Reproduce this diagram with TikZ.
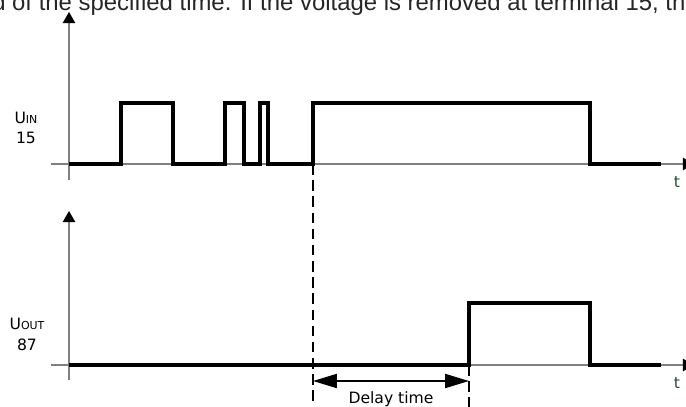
\documentclass[tikz,border=0pt]{standalone}
\usepackage{fontspec}
\setmainfont{DejaVu Sans}
\newfontfamily\arialfont{Liberation Sans}
\usetikzlibrary{arrows.meta}
\definecolor{axisgray}{RGB}{128,128,128}
\definecolor{tgreen}{RGB}{30,78,48}
\begin{document}
\begin{tikzpicture}[x=0.025cm, y=-0.025cm,
    axis/.style={draw=axisgray, line width=0.75pt},
    tip/.style={-{Triangle[length=8pt, width=9pt, color=black]}},
    sig/.style={draw, line width=2.4pt, miter limit=4},
    guide/.style={draw, line width=1.2pt, dash pattern=on 7.5pt off 4pt},
    lbl/.style={font=\fontsize{11.1}{13}\selectfont, inner sep=0pt},
    tlbl/.style={lbl, text=tgreen}
]
\useasboundingbox (0,0) rectangle (686,407);

% cropped line above
\node[anchor=base west, inner sep=0pt, text=black!85, font=\arialfont\fontsize{17}{20}\selectfont] (head) at (-8,11) {d of the specified time. If the voltage is removed at terminal 15, the};

% axes
\coordinate (o1) at (69,164);
\coordinate (o2) at (69,365);
\draw[axis, tip] (51,164) -- (694,164);
\draw[axis, tip] (51,365) -- (694,365);
\draw[axis, tip] (69,180) -- (69,12);
\draw[axis, tip] (69,380) -- (69,211);

% labels
\node[lbl] (uin) at (26,118) {U{\fontsize{7.8}{8}\selectfont IN}};
\node[lbl] (n15) at (26,138) {15};
\node[lbl] (uout) at (27,324) {U{\fontsize{7.8}{8}\selectfont OUT}};
\node[lbl] (n87) at (27,345) {87};
\node[tlbl] (t1) at (677,182) {t};
\node[tlbl] (t2) at (677,383) {t};

% input 15
\draw[sig] (o1) -- (121,164) -- (121,103) -- (173,103) -- (173,164)
    -- (225,164) -- (225,103) -- (244,103) -- (244,164)
    -- (260,164) -- (260,103) -- (268,103) -- (268,164)
    -- (313,164) -- (313,103) -- (590,103) -- (590,164) -- (661,164);

% output 87
\draw[sig] (o2) -- (469,365) -- (469,303) -- (590,303) -- (590,365) -- (661,365);

% delay
\coordinate (on) at (313,164);
\coordinate (up) at (469,365);
\coordinate (d1) at (313,381);
\coordinate (d2) at (469,381);
\draw[guide] (on) -- (313,412);
\draw[guide] (up) -- (469,412);
\draw[line width=1.2pt, {Triangle[length=17pt, width=10pt]}-{Triangle[length=17pt, width=10pt]}] (d1) -- (d2);
\node[lbl] (delay) at (391,399) {Delay time};
\end{tikzpicture}
\end{document}
